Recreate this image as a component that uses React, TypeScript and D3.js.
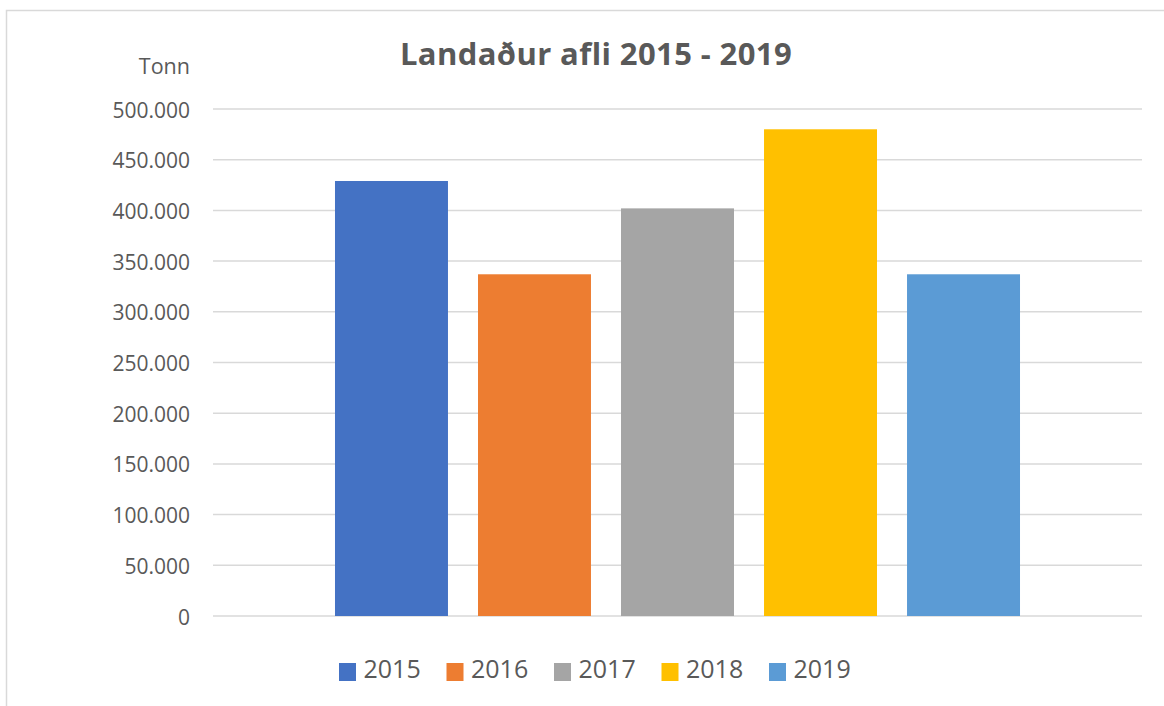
import React from "react";
import * as d3 from "d3";

const series = ["2015", "2016", "2017", "2018", "2019"];
const values = [429000, 337000, 402000, 480000, 337000];
const colors = ["#4472C4", "#ED7D31", "#A5A5A5", "#FFC000", "#5B9BD5"];
const yTicks = [0, 50000, 100000, 150000, 200000, 250000, 300000, 350000, 400000, 450000, 500000];
const title = "Landaður afli 2015 - 2019";
const yLabel = "Tonn";

const W = 1164;
const H = 706;
const plot = { left: 213, right: 1142, top: 109, bottom: 616 };

const fmt = (v: number) => (v === 0 ? "0" : d3.format(",")(v).replace(/,/g, "."));

export default function App() {
  const y = d3.scaleLinear().domain([0, 500000]).range([plot.bottom, plot.top]);
  const x = d3
    .scaleBand<string>()
    .domain(series)
    .range([plot.left, plot.right])
    .paddingInner(0.21)
    .paddingOuter(0.853);
  const font = "'Open Sans', 'Liberation Sans', sans-serif";
  const textColor = "#595959";
  const legendX = d3.scalePoint<string>().domain(series).range([339, 769]);

  return (
    <svg
      width={W}
      height={H}
      style={{ position: "absolute", left: 0, top: 0, background: "#fff" }}
      fontFamily={font}
    >
      <rect x={6.5} y={10.5} width={1300} height={900} fill="#fff" stroke="#D9D9D9" strokeWidth={1.5} />
      <text x={596} y={65} textAnchor="middle" fontSize={31} fontWeight="bold" letterSpacing={0.4} fill={textColor}>
        {title}
      </text>
      <text x={190} y={74} textAnchor="end" fontSize={21.5} fill={textColor}>
        {yLabel}
      </text>
      {yTicks.map((t) => (
        <g key={t}>
          <line x1={plot.left} x2={plot.right} y1={y(t)} y2={y(t)} stroke="#D9D9D9" strokeWidth={1.5} />
          <text x={190} y={y(t) + 8.5} textAnchor="end" fontSize={21} fill={textColor}>
            {fmt(t)}
          </text>
        </g>
      ))}
      {series.map((s, i) => (
        <rect
          key={s}
          x={x(s)}
          y={y(values[i])}
          width={x.bandwidth()}
          height={y(0) - y(values[i])}
          fill={colors[i]}
        />
      ))}
      {series.map((s, i) => (
        <g key={"lg" + s} transform={`translate(${legendX(s)},0)`}>
          <rect x={0} y={663} width={17} height={18} fill={colors[i]} />
          <text x={24.5} y={678} fontSize={25} fill={textColor}>
            {s}
          </text>
        </g>
      ))}
    </svg>
  );
}
